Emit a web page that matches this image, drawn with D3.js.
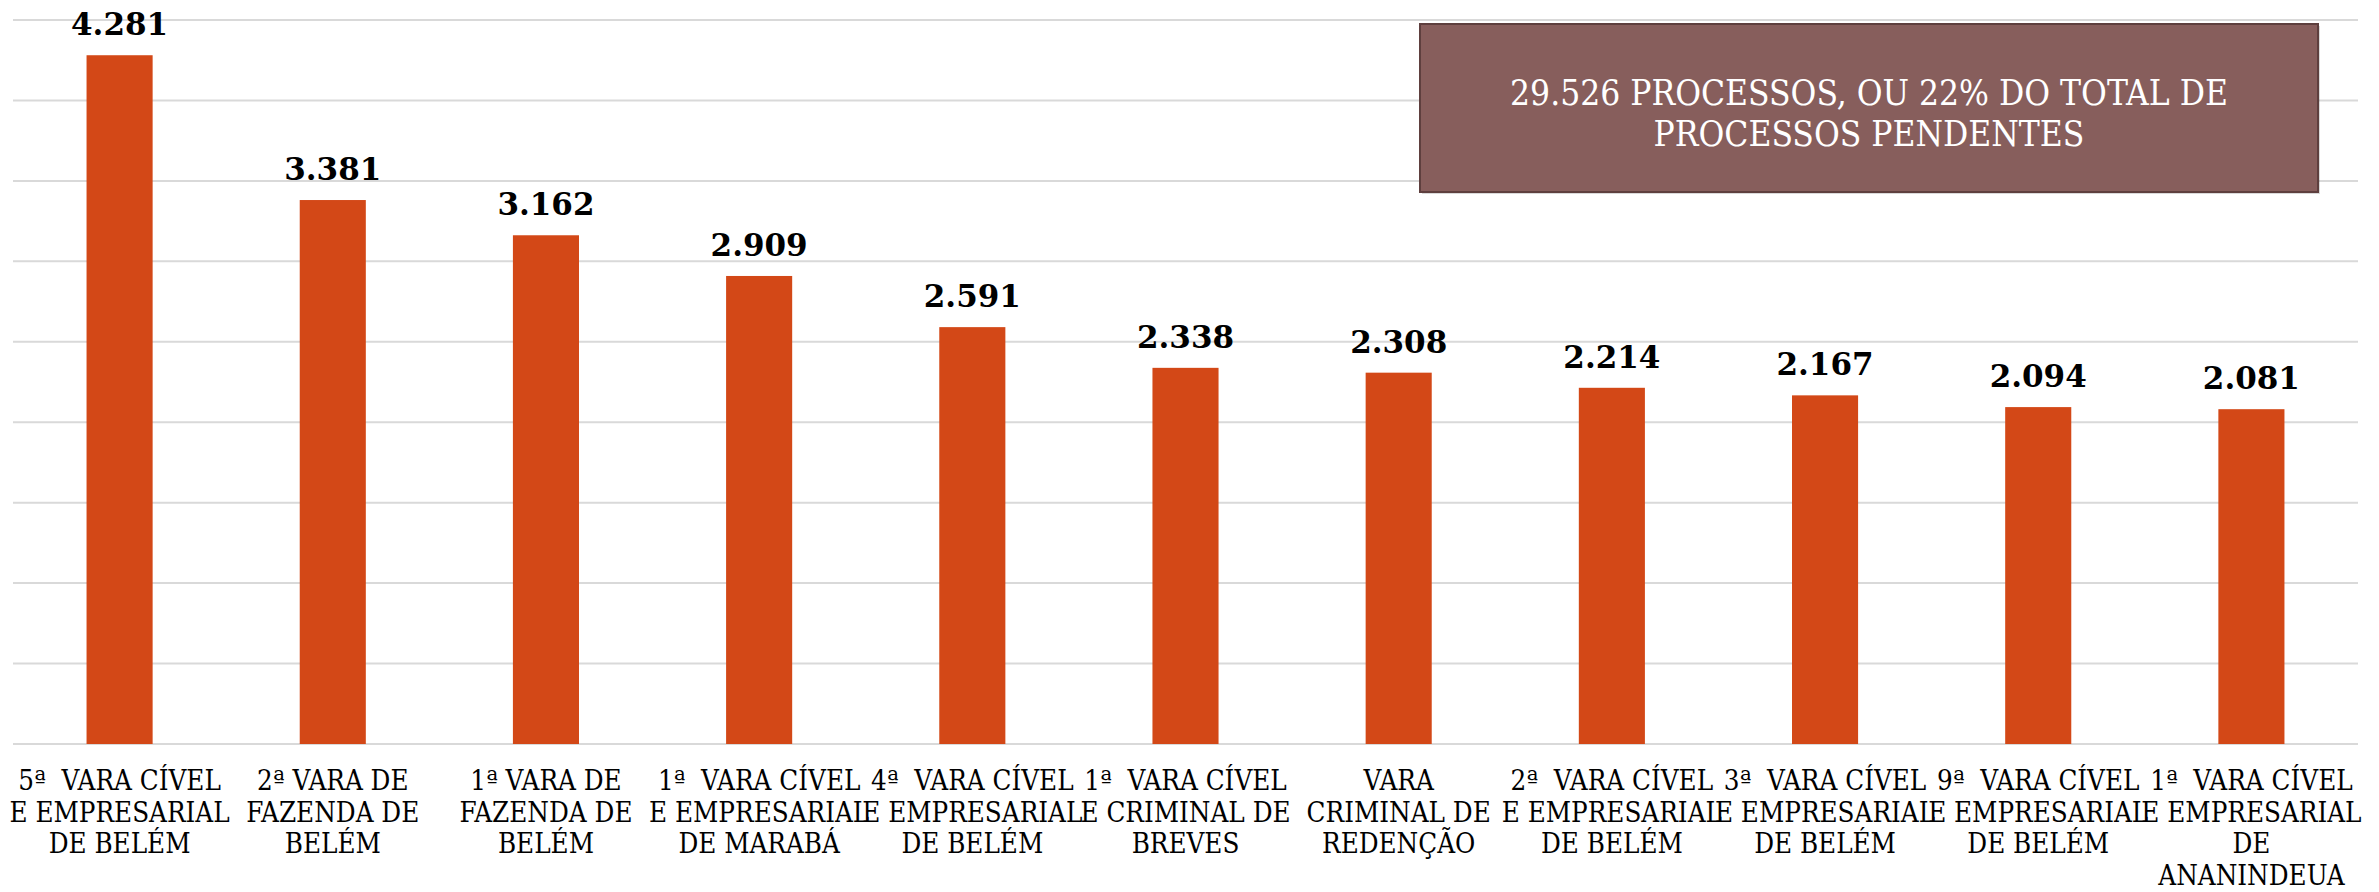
<!DOCTYPE html>
<html>
<head>
<meta charset="utf-8">
<script src="https://cdn.jsdelivr.net/npm/d3@7"></script>
<style>
  body { margin: 0; background: #fff; }
  svg { display: block; }
  .cat { font-family: "DejaVu Serif Condensed", "DejaVu Serif", serif; font-stretch: condensed; font-size: 27.5px; fill: #000; white-space: pre; }
  .val { font-family: "DejaVu Serif", serif; font-weight: bold; font-size: 31px; fill: #000; }
  .note { font-family: "DejaVu Serif Condensed", "DejaVu Serif", serif; font-stretch: condensed; font-size: 35px; fill: #fff; }
</style>
</head>
<body>
<svg id="chart"></svg>
<script>
// categories (line breaks as in the original axis)
const categories = [
    '5ª  VARA CÍVEL\nE EMPRESARIAL\nDE BELÉM',
    '2ª VARA DE\nFAZENDA DE\nBELÉM',
    '1ª VARA DE\nFAZENDA DE\nBELÉM',
    '1ª  VARA CÍVEL\nE EMPRESARIAL\nDE MARABÁ',
    '4ª  VARA CÍVEL\nE EMPRESARIAL\nDE BELÉM',
    '1ª  VARA CÍVEL\nE CRIMINAL DE\nBREVES',
    'VARA\nCRIMINAL DE\nREDENÇÃO',
    '2ª  VARA CÍVEL\nE EMPRESARIAL\nDE BELÉM',
    '3ª  VARA CÍVEL\nE EMPRESARIAL\nDE BELÉM',
    '9ª  VARA CÍVEL\nE EMPRESARIAL\nDE BELÉM',
    '1ª  VARA CÍVEL\nE EMPRESARIAL\nDE\nANANINDEUA'
];
const values = [4281, 3381, 3162, 2909, 2591, 2338, 2308, 2214, 2167, 2094, 2081];
const yTicks = [0, 500, 1000, 1500, 2000, 2500, 3000, 3500, 4000, 4500];
const noteLines = ['29.526 PROCESSOS, OU 22% DO TOTAL DE', 'PROCESSOS PENDENTES'];

const width = 2379, height = 892;
const margin = { top: 20, right: 21, bottom: 148, left: 13 };

const svg = d3.select('#chart').attr('width', width).attr('height', height);

const x = d3.scaleBand()
    .domain(d3.range(categories.length))
    .range([margin.left, width - margin.right])
    .paddingInner(0.69)
    .paddingOuter(0.345);

const y = d3.scaleLinear()
    .domain([0, 4500])
    .range([height - margin.bottom, margin.top]);

// gridlines
svg.append('g')
    .selectAll('line')
    .data(yTicks)
    .join('line')
    .attr('x1', margin.left)
    .attr('x2', width - margin.right)
    .attr('y1', d => y(d))
    .attr('y2', d => y(d))
    .attr('stroke', '#d9d9d9')
    .attr('stroke-width', 2);

// bars
svg.append('g')
    .selectAll('rect')
    .data(values)
    .join('rect')
    .attr('x', (d, i) => x(i))
    .attr('y', d => y(d))
    .attr('width', x.bandwidth())
    .attr('height', d => y(0) - y(d))
    .attr('fill', '#d34817');

// value labels
const fmt = d3.formatLocale({ decimal: ',', thousands: '.', grouping: [3], currency: ['R$', ''] }).format(',d');
svg.append('g')
    .selectAll('text')
    .data(values)
    .join('text')
    .attr('class', 'val')
    .attr('x', (d, i) => x(i) + x.bandwidth() / 2)
    .attr('y', d => y(d) - 20)
    .attr('text-anchor', 'middle')
    .text(d => fmt(d));

// category labels
const cat = svg.append('g')
    .selectAll('text')
    .data(categories)
    .join('text')
    .attr('class', 'cat')
    .attr('text-anchor', 'middle')
    .attr('transform', (d, i) => `translate(${x(i) + x.bandwidth() / 2},${y(0) + 46})`);
cat.selectAll('tspan')
    .data(d => d.split('\n'))
    .join('tspan')
    .attr('x', 0)
    .attr('y', (d, i) => i * 31.5)
    .text(d => d);

// annotation box
const box = { x: 1420, y: 24, w: 898, h: 168 };
svg.append('rect')
    .attr('x', box.x + 2).attr('y', box.y + 2)
    .attr('width', box.w).attr('height', box.h)
    .attr('fill', 'rgba(0,0,0,0.15)');
svg.append('rect')
    .attr('x', box.x).attr('y', box.y)
    .attr('width', box.w).attr('height', box.h)
    .attr('fill', '#875e5c')
    .attr('stroke', '#5e3f3e')
    .attr('stroke-width', 2);
svg.append('g')
    .selectAll('text')
    .data(noteLines)
    .join('text')
    .attr('class', 'note')
    .attr('x', box.x + box.w / 2)
    .attr('y', (d, i) => 105 + i * 41)
    .attr('text-anchor', 'middle')
    .text(d => d);
</script>
</body>
</html>
